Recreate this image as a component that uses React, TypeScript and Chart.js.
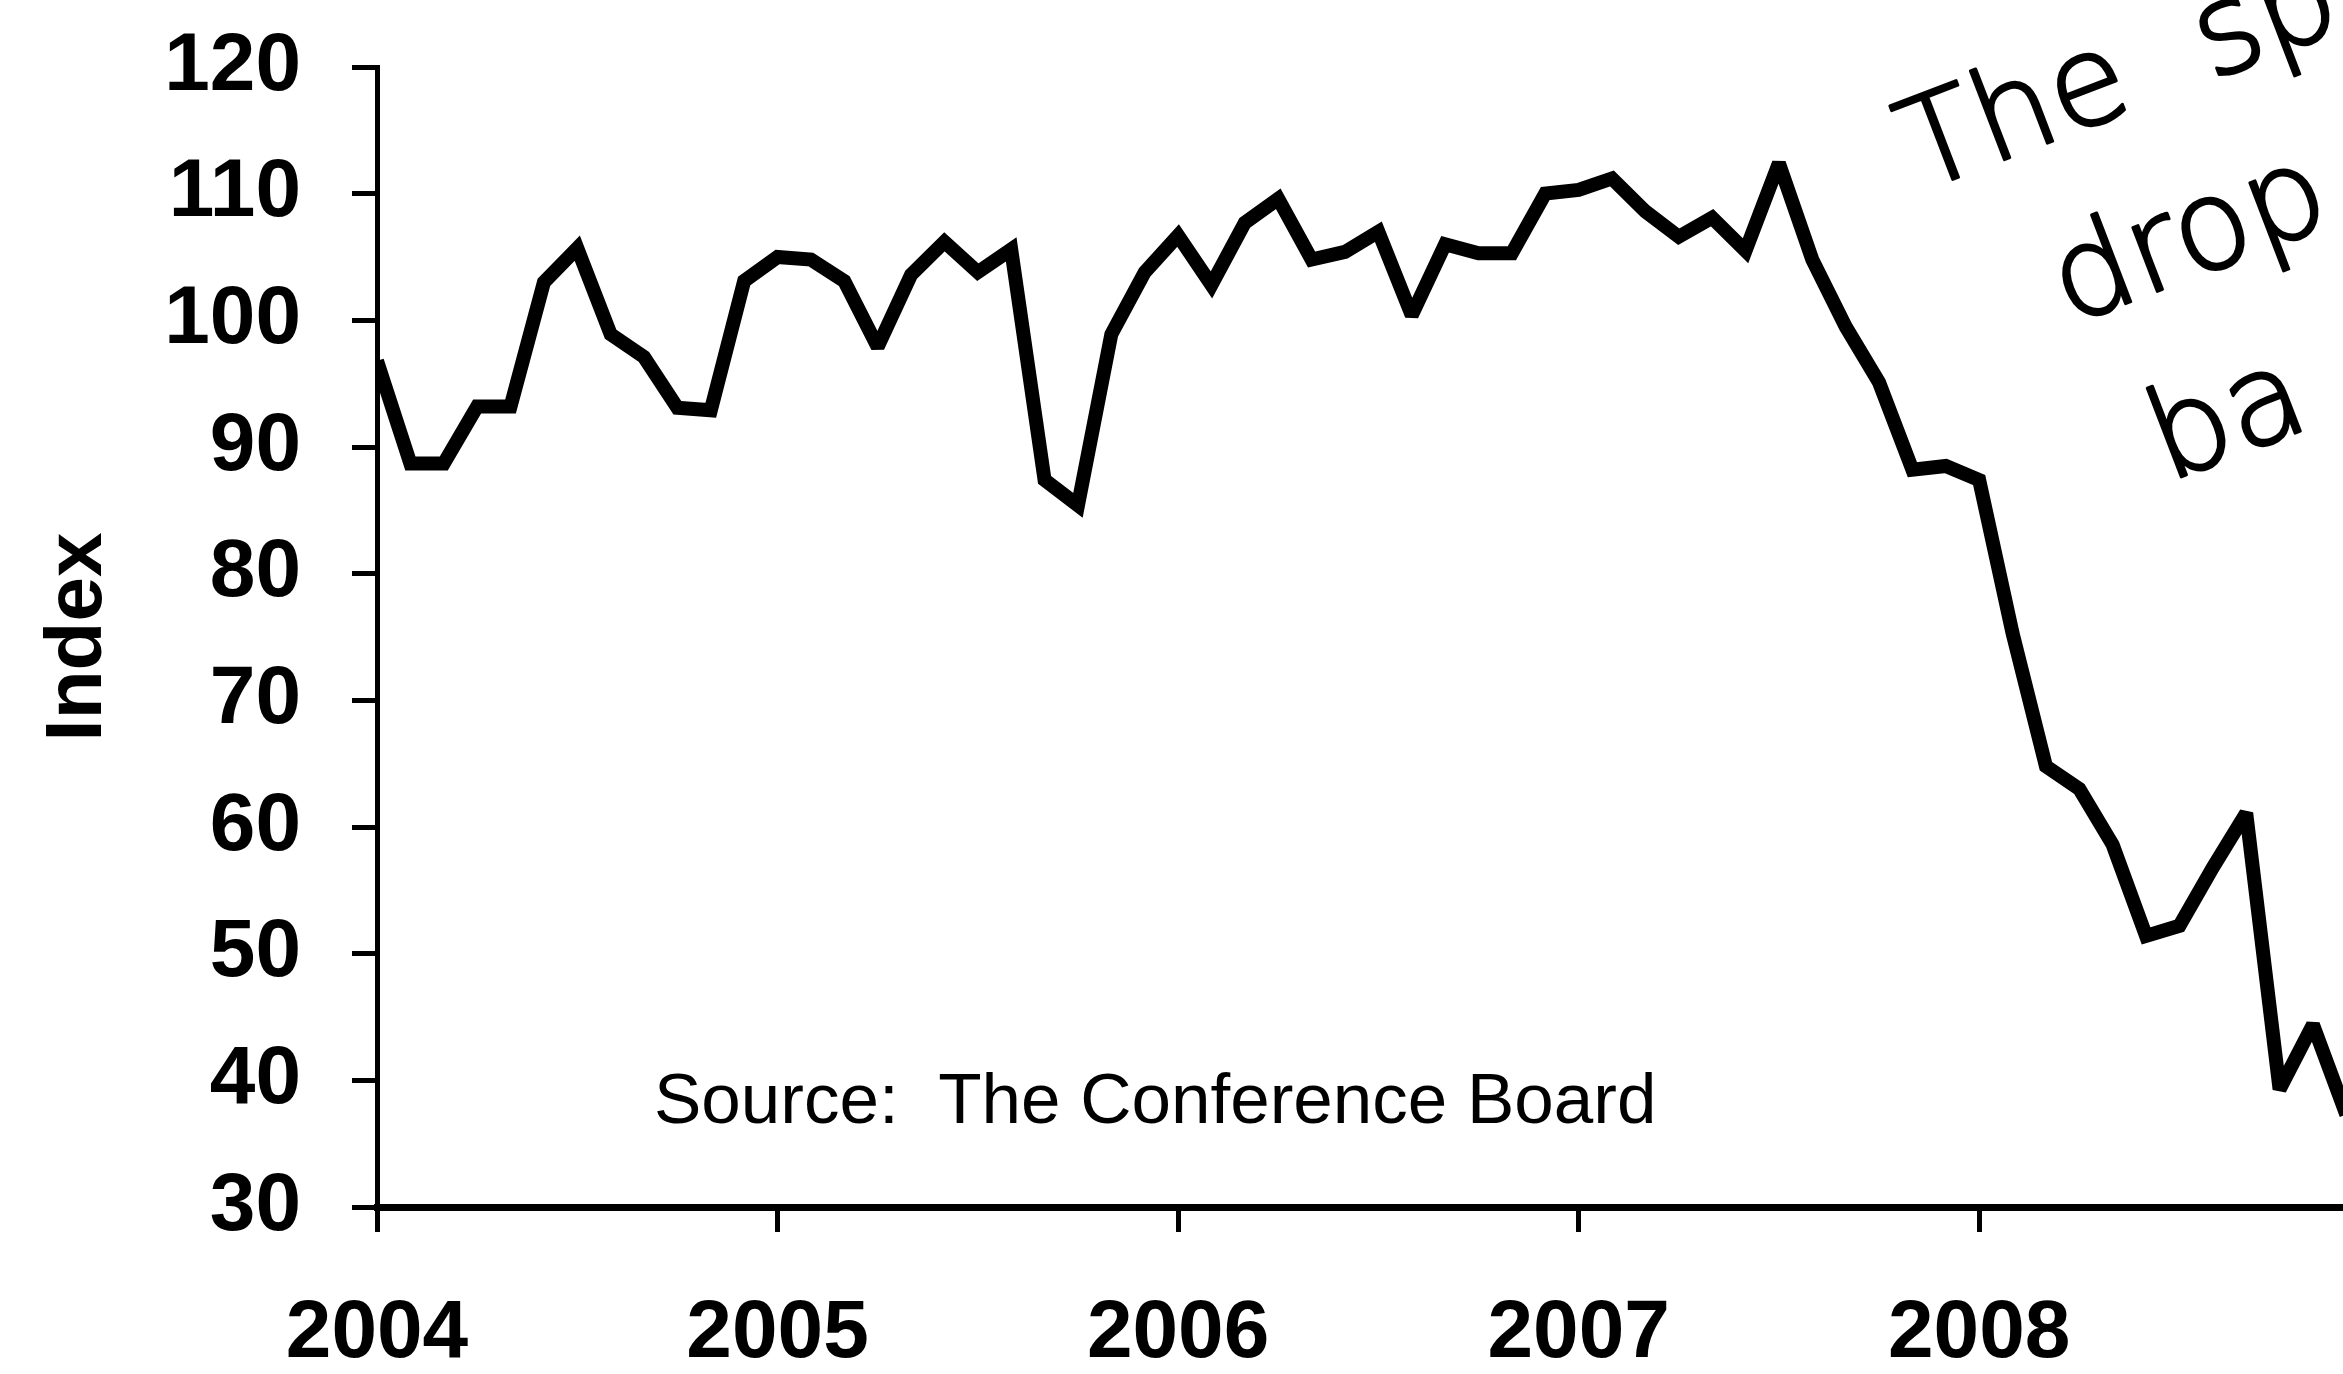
import React, { useEffect, useRef } from 'react';
import { Chart, registerables } from 'chart.js';

Chart.register(...registerables);

// Consumer Confidence Index, monthly, Jan 2004 onward
const indexValues = [
  96.8, 88.7, 88.7, 93.2, 93.2, 103.0, 105.7, 98.9, 97.1, 93.1, 92.9, 103.1,
  105.0, 104.8, 103.1, 97.9, 103.6, 106.2, 103.8, 105.6, 87.4, 85.4, 98.9, 103.8,
  106.7, 102.8, 107.7, 109.6, 104.8, 105.4, 107.0, 100.4, 106.0, 105.3, 105.3, 110.0,
  110.3, 111.2, 108.6, 106.6, 108.1, 105.5, 112.4, 104.8, 99.5, 95.1, 88.2, 88.5,
  87.4, 75.3, 64.8, 63.0, 58.6, 51.4, 52.2, 56.8, 61.1, 39.3, 44.4, 37.3,
];
const yearLabels = ['2004', '2005', '2006', '2007', '2008'];
const yearTickMonths = [0, 12, 24, 36, 48];
const yAxisTitle = 'Index';
const sourceNote = 'Source:  The Conference Board';
const handNotes = ['The  sp', 'drop', 'ba'];

const FAMILY = '"Liberation Sans", Arial, Helvetica, sans-serif';

export default function App() {
  const ref = useRef<HTMLCanvasElement>(null);

  useEffect(() => {
    const canvas = ref.current;
    if (!canvas) return;

    const annotate = {
      id: 'annotate',
      beforeDatasetsDraw(chart: any) {
        chart.ctx.miterLimit = 2;
      },
      afterDraw(chart: any) {
        const ctx = chart.ctx as CanvasRenderingContext2D;
        ctx.save();
        ctx.fillStyle = '#000';
        ctx.strokeStyle = '#000';
        ctx.textAlign = 'left';
        ctx.textBaseline = 'alphabetic';
        ctx.font = `71px ${FAMILY}`;
        ctx.fillText(sourceNote, 654, 1123);

        ctx.font = '200 125px "DejaVu Sans", sans-serif';
        ctx.lineWidth = 3;
        ctx.lineJoin = 'round';
        const spots: [number, number][] = [
          [1920, 192],
          [2070, 325],
          [2168, 482],
        ];
        handNotes.forEach((t, i) => {
          ctx.save();
          ctx.translate(spots[i][0], spots[i][1]);
          ctx.rotate((-21 * Math.PI) / 180);
          ctx.fillText(t, 0, 0);
          ctx.strokeText(t, 0, 0);
          ctx.restore();
        });
        ctx.restore();
      },
    };

    const chart = new Chart(canvas, {
      type: 'line',
      data: {
        datasets: [
          {
            data: indexValues.map((v, i) => ({ x: i, y: v })),
            borderColor: '#000',
            borderWidth: 14,
            borderJoinStyle: 'miter',
            borderCapStyle: 'butt',
            pointRadius: 0,
            pointHoverRadius: 0,
            tension: 0,
            fill: false,
          },
        ],
      },
      options: {
        animation: false,
        responsive: false,
        devicePixelRatio: 1,
        layout: { padding: { top: 67, right: 0, bottom: 0, left: 0 } },
        plugins: {
          legend: { display: false },
          tooltip: { enabled: false },
        },
        scales: {
          x: {
            type: 'linear',
            min: 0,
            max: 58.9,
            afterBuildTicks: (scale: any) => {
              scale.ticks = yearTickMonths.map((v) => ({ value: v }));
            },
            afterFit: (scale: any) => {
              scale.height = 167;
              scale.paddingLeft = 0;
              scale.paddingRight = 0;
              scale.paddingTop = 0;
              scale.paddingBottom = 0;
            },
            ticks: {
              autoSkip: false,
              maxRotation: 0,
              padding: 53,
              color: '#000',
              font: { family: FAMILY, size: 82, weight: 'bold' },
              callback: (_v: any, index: number) => yearLabels[index] ?? '',
            },
            grid: {
              display: true,
              drawOnChartArea: false,
              drawTicks: true,
              tickLength: 25,
              tickWidth: 5,
              tickColor: '#000',
            },
            border: { display: true, color: '#000', width: 7 },
          },
          y: {
            type: 'linear',
            min: 30,
            max: 120,
            afterFit: (scale: any) => {
              scale.width = 377;
              scale.paddingLeft = 0;
              scale.paddingRight = 0;
              scale.paddingTop = 0;
              scale.paddingBottom = 0;
            },
            ticks: {
              stepSize: 10,
              padding: 51,
              color: '#000',
              font: { family: FAMILY, size: 82, weight: 'bold' },
            },
            grid: {
              display: true,
              drawOnChartArea: false,
              drawTicks: true,
              tickLength: 25,
              tickWidth: 5,
              tickColor: '#000',
            },
            border: { display: true, color: '#000', width: 5 },
            title: {
              display: true,
              text: yAxisTitle,
              color: '#000',
              font: { family: FAMILY, size: 80, weight: 'bold' },
              padding: { top: 31, bottom: 0 },
            },
          },
        },
      } as any,
      plugins: [annotate],
    });

    return () => chart.destroy();
  }, []);

  return (
    <div
      style={{
        position: 'fixed',
        left: 0,
        top: 0,
        width: 2343,
        height: 1374,
        background: '#fff',
        overflow: 'hidden',
      }}
    >
      <canvas ref={ref} width={2343} height={1374} style={{ display: 'block' }} />
    </div>
  );
}
